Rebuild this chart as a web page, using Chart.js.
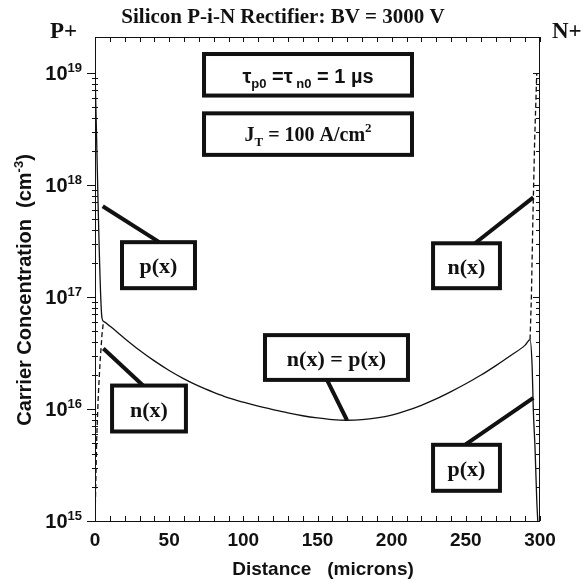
<!DOCTYPE html>
<html>
<head>
<meta charset="utf-8">
<script src="https://cdn.jsdelivr.net/npm/chart.js@4.4.1/dist/chart.umd.min.js"></script>
<style>
html,body{margin:0;padding:0;background:#fff;}
</style>
</head>
<body>
<canvas id="ctx" width="584" height="582"></canvas>
<script>

// solid curve: p(x), equal to n(x) in the drift region
var pDist = [0, 4.7, 6, 10, 20, 30, 40, 50, 60, 70, 80, 90, 100, 110, 120, 130, 140, 150, 160, 170, 180, 190, 200, 210, 220, 230, 240, 250, 260, 270, 280, 290, 293.3, 294.7, 295.5, 296.7, 297.8, 298.5];
var pConc = [1.0e19, 6.5e16, 6.03e16, 5.5e16, 4.27e16, 3.35e16, 2.69e16, 2.21e16, 1.86e16, 1.6e16, 1.41e16, 1.26e16, 1.15e16, 1.06e16, 9.89e15, 9.23e15, 8.71e15, 8.32e15, 8.04e15, 7.94e15, 8.04e15, 8.32e15, 8.81e15, 9.66e15, 1.08e16, 1.23e16, 1.43e16, 1.68e16, 2.0e16, 2.43e16, 2.99e16, 3.72e16, 4.17e16, 2.4e16, 9.8e15, 4.3e15, 1.55e15, 1.0e15];

// dashed curve: n(x) near the P+ and N+ ends
var nLeftDist = [0, 0.6, 1.1, 2.2, 3.4, 4.7, 5.6];
var nLeftConc = [1.0e15, 2.4e15, 5.2e15, 1.3e16, 2.6e16, 4.6e16, 5.9e16];
var nRightDist = [293.3, 294.2, 295.2, 296.4, 297.8];
var nRightConc = [4.17e16, 1.0e17, 5.0e17, 2.5e18, 1.0e19];

var xTickLabels = [0, 50, 100, 150, 200, 250, 300];
var yDecades = [15, 16, 17, 18, 19];

var sans = '"Liberation Sans", Arial, sans-serif';
var serif = '"Liberation Serif", "Times New Roman", serif';

// label boxes, in chart units (microns, cm^-3)
var boxes = [
  {x1: 73.5, x2: 213.7, y1: 1.48e19, y2: 6.3e18, kind: 'tau'},
  {x1: 73.5, x2: 213.7, y1: 4.37e18, y2: 1.86e18, kind: 'jt'},
  {x1: 18.2, x2: 67.4, y1: 3.09e17, y2: 1.20e17, text: 'p(x)', from: [5.2, 6.46e17], to: [43.3, 3.09e17]},
  {x1: 11.5, x2: 61.3, y1: 1.62e16, y2: 6.3e15, text: 'n(x)', from: [5.6, 3.47e16], to: [32.4, 1.62e16]},
  {x1: 114.6, x2: 211.0, y1: 4.57e16, y2: 1.82e16, text: 'n(x) = p(x)', from: [169.9, 7.94e15], to: [156.4, 1.82e16]},
  {x1: 227.9, x2: 273.0, y1: 3.02e17, y2: 1.20e17, text: 'n(x)', from: [295.5, 7.76e17], to: [256.2, 3.02e17]},
  {x1: 227.9, x2: 273.0, y1: 4.79e15, y2: 1.86e15, text: 'p(x)', from: [295.5, 1.26e16], to: [249.4, 4.79e15]}
];

function pts(xs, ys) {
  return xs.map(function (x, i) { return {x: x, y: ys[i]}; });
}

function drawRuns(c, runs, cx, base, align) {
  var w = 0;
  runs.forEach(function (r) { c.font = r.f; r.w = c.measureText(r.t).width; w += r.w; });
  var x = align === 'right' ? cx - w : (align === 'left' ? cx : cx - w / 2);
  c.textAlign = 'left';
  c.textBaseline = 'alphabetic';
  runs.forEach(function (r) { c.font = r.f; c.fillText(r.t, x, base + (r.dy || 0)); x += r.w; });
}

var decorPlugin = {
  id: 'decor',
  afterDraw: function (chart) {
    var c = chart.ctx, a = chart.chartArea;
    var xs = chart.scales.x, ys = chart.scales.y;
    c.save();
    c.fillStyle = '#111';
    c.strokeStyle = '#111';

    // frame
    c.lineWidth = 1;
    c.strokeRect(a.left + 0.5, a.top + 0.5, a.right - a.left - 1, a.bottom - a.top);

    // x ticks, inward on top and bottom
    c.beginPath();
    for (var v = 0; v <= 300; v += 10) {
      var px = Math.round(xs.getPixelForValue(v)) + 0.5;
      c.moveTo(px, a.bottom); c.lineTo(px, a.bottom - 5);
      c.moveTo(px, a.top); c.lineTo(px, a.top + 5);
    }
    // y ticks
    for (var k = 15; k <= 19; k++) {
      for (var m = 1; m <= 9; m++) {
        if (k === 19 && m > 1) break;
        var py = Math.round(ys.getPixelForValue(m * Math.pow(10, k))) + 0.5;
        if (m === 1) {
          c.moveTo(a.left - 8, py); c.lineTo(a.left, py);
          c.moveTo(a.right, py); c.lineTo(a.right - 7, py);
        } else {
          c.moveTo(a.left - 3, py); c.lineTo(a.left + 3, py);
          c.moveTo(a.right, py); c.lineTo(a.right - 4, py);
        }
      }
    }
    c.stroke();

    // y tick labels with exponents
    yDecades.forEach(function (k) {
      var py = ys.getPixelForValue(Math.pow(10, k));
      drawRuns(c, [
        {t: '10', f: 'bold 20px ' + sans},
        {t: String(k), f: 'bold 13px ' + sans, dy: -8}
      ], 82, py + 7, 'right');
    });

    // axis titles
    c.save();
    c.translate(31, 290);
    c.rotate(-Math.PI / 2);
    drawRuns(c, [
      {t: 'Carrier Concentration  (cm', f: 'bold 20px ' + sans},
      {t: '-3', f: 'bold 13px ' + sans, dy: -8},
      {t: ')', f: 'bold 20px ' + sans}
    ], 0, 0, 'center');
    c.restore();
    drawRuns(c, [{t: 'Distance   (microns)', f: 'bold 19px ' + sans}], 323, 575, 'center');

    // title and region labels
    drawRuns(c, [{t: 'Silicon P-i-N Rectifier: BV = 3000 V', f: 'bold 21px ' + serif}], 283, 23, 'center');
    drawRuns(c, [{t: 'P+', f: 'bold 23px ' + serif}], 50, 38, 'left');
    drawRuns(c, [{t: 'N+', f: 'bold 23px ' + serif}], 552, 38, 'left');

    // annotation boxes and pointers
    c.lineWidth = 4;
    boxes.forEach(function (b) {
      var l = xs.getPixelForValue(b.x1), r = xs.getPixelForValue(b.x2);
      var t = ys.getPixelForValue(b.y1), bt = ys.getPixelForValue(b.y2);
      if (b.from) {
        c.beginPath();
        c.moveTo(xs.getPixelForValue(b.from[0]), ys.getPixelForValue(b.from[1]));
        c.lineTo(xs.getPixelForValue(b.to[0]), ys.getPixelForValue(b.to[1]));
        c.stroke();
      }
      c.fillStyle = '#fff';
      c.fillRect(l, t, r - l, bt - t);
      c.fillStyle = '#111';
      c.strokeRect(l, t, r - l, bt - t);
      var cx = (l + r) / 2, base = (t + bt) / 2 + 8;
      if (b.kind === 'tau') {
        drawRuns(c, [
          {t: '\u03c4', f: 'bold 20px ' + sans},
          {t: 'p0', f: 'bold 13px ' + sans, dy: 5},
          {t: ' =\u03c4', f: 'bold 20px ' + sans},
          {t: ' n0', f: 'bold 13px ' + sans, dy: 5},
          {t: ' = 1 \u00b5s', f: 'bold 20px ' + sans}
        ], cx, base, 'center');
      } else if (b.kind === 'jt') {
        drawRuns(c, [
          {t: 'J', f: 'bold 20px ' + serif},
          {t: 'T', f: 'bold 13px ' + serif, dy: 5},
          {t: ' = 100 A/cm', f: 'bold 20px ' + serif},
          {t: '2', f: 'bold 13px ' + serif, dy: -9}
        ], cx, base - 1, 'center');
      } else {
        drawRuns(c, [{t: b.text, f: 'bold 22px ' + serif}], cx, base, 'center');
      }
    });
    c.restore();
  }
};

var chart = new Chart(document.getElementById('ctx'), {
  type: 'line',
  data: {
    datasets: [{
      label: 'p(x)',
      data: pts(pDist, pConc),
      borderColor: '#111',
      borderWidth: 1.3,
      cubicInterpolationMode: 'monotone',
      fill: false
    }, {
      label: 'n(x) left',
      data: pts(nLeftDist, nLeftConc),
      borderColor: '#111',
      borderWidth: 1.3,
      borderDash: [5, 3],
      fill: false
    }, {
      label: 'n(x) right',
      data: pts(nRightDist, nRightConc),
      borderColor: '#111',
      borderWidth: 1.3,
      borderDash: [5, 3],
      fill: false
    }]
  },
  options: {
    responsive: false,
    animation: false,
    layout: {padding: {top: 37, right: 44, left: 0, bottom: 0}},
    elements: {point: {radius: 0}, line: {tension: 0}},
    plugins: {legend: {display: false}, tooltip: {enabled: false}},
    scales: {
      x: {
        type: 'linear', min: 0, max: 300,
        grid: {display: false, drawTicks: false},
        border: {display: false},
        ticks: {
          stepSize: 10, autoSkip: false, maxRotation: 0, padding: 8, color: '#111',
          font: {family: sans, size: 19, weight: 'bold'},
          callback: function (v) { return xTickLabels.indexOf(v) >= 0 ? String(v) : ''; }
        },
        afterFit: function (s) { s.height = 61; }
      },
      y: {
        type: 'logarithmic', min: 1e15, max: 2.1e19,
        grid: {display: false, drawTicks: false},
        border: {display: false},
        ticks: {display: false},
        afterFit: function (s) { s.width = 95; }
      }
    }
  },
  plugins: [decorPlugin]
});
</script>
</body>
</html>
